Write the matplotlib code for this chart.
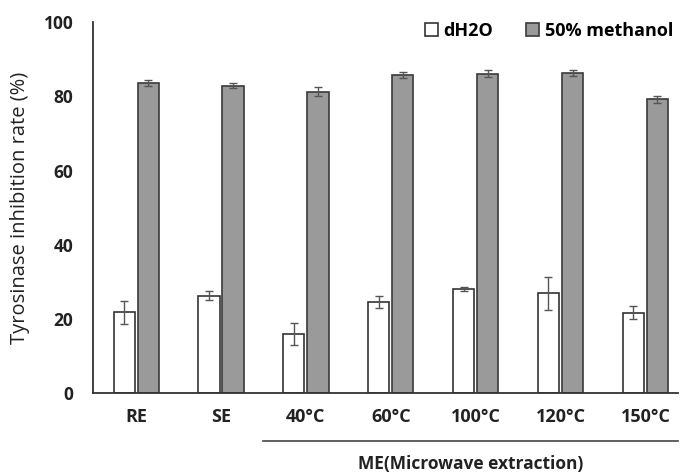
import matplotlib.pyplot as plt
import numpy as np

plt.rcParams['font.family'] = ['Open Sans', 'DejaVu Sans']

# data
categories = ['RE', 'SE', '40°C', '60°C', '100°C', '120°C', '150°C']
water = [21.8, 26.2, 16.0, 24.6, 28.0, 26.9, 21.7]
water_err = [3.1, 1.2, 3.0, 1.6, 0.5, 4.4, 1.7]
methanol = [83.6, 82.9, 81.2, 85.7, 86.1, 86.3, 79.2]
methanol_err = [0.8, 0.6, 1.2, 0.8, 1.0, 0.7, 1.0]

fig = plt.figure(figsize=(6.88, 4.73), dpi=100)
ax = fig.add_axes([0.135, 0.169, 0.85, 0.784])

x = np.arange(len(categories))
w = 0.25
off = 0.142

ekw = dict(ecolor='#555555', elinewidth=1.0, capsize=3, capthick=1.0)
ax.bar(x - off, water, w, yerr=water_err, color='white', edgecolor='#333333',
       linewidth=1.2, error_kw=ekw, label='dH2O')
ax.bar(x + off, methanol, w, yerr=methanol_err, color='#9a9a9a', edgecolor='#3a3a3a',
       linewidth=1.2, error_kw=ekw, label='50% methanol')

ax.set_xlim(-0.51, 6.38)
ax.set_ylim(0, 100)
ax.set_yticks([0, 20, 40, 60, 80, 100])
ax.set_xticks(x)
ax.set_xticklabels(categories, fontsize=13, fontweight='bold', color='#222222')
for lab in ax.get_yticklabels():
    lab.set_fontsize(12.5)
    lab.set_fontweight('bold')
    lab.set_color('#222222')
ax.tick_params(axis='y', length=0, pad=14)
ax.tick_params(axis='x', length=0, pad=11)
ax.set_ylabel('Tyrosinase inhibition rate (%)', fontsize=14.5, color='#222222', labelpad=10)

for s in ['top', 'right']:
    ax.spines[s].set_visible(False)
for s in ['left', 'bottom']:
    ax.spines[s].set_color('#333333')
    ax.spines[s].set_linewidth(1.3)

# ME group line and label
ax.plot([1.5, 6.38], [-13, -13], color='#444444', lw=1.2, clip_on=False)
ax.text(3.94, -19.2, 'ME(Microwave extraction)', ha='center', va='center',
        fontsize=12.5, fontweight='bold', color='#222222')

leg = ax.legend(loc='upper right', bbox_to_anchor=(1.02, 1.045), ncol=2, frameon=False,
                handlelength=0.75, handleheight=0.75, handletextpad=0.3,
                columnspacing=1.8, prop={'weight': 'bold', 'size': 13})

fig.savefig('out.png', dpi=100, facecolor='white')
